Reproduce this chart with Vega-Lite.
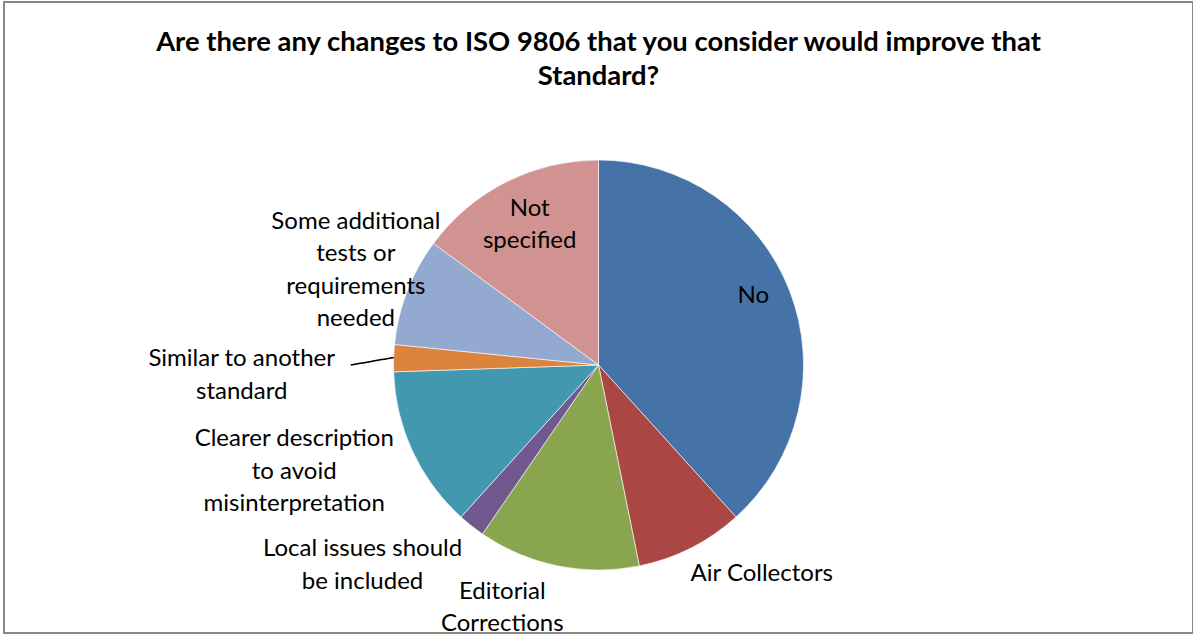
{
  "$schema": "https://vega.github.io/schema/vega-lite/v6.json",
  "width": 1189,
  "height": 631,
  "autosize": {"type": "none"},
  "padding": {"left": 4, "top": 2, "right": 0, "bottom": 2},
  "background": "white",
  "view": {"stroke": "#888888", "strokeWidth": 2, "fill": "white"},
  "title": {
    "text": ["Are there any changes to ISO 9806 that you consider would improve that", "Standard?"],
    "font": "Lato",
    "fontSize": 27.4,
    "fontWeight": "bold",
    "color": "#000000",
    "anchor": "middle",
    "frame": "group",
    "orient": "top",
    "offset": -88,
    "lineHeight": 34
  },
  "data": {
    "values": [
      {"cat": "No", "label": "No", "count": 18, "rank": 1},
      {"cat": "Air Collectors", "label": "Air Collectors", "count": 4, "rank": 2},
      {"cat": "Editorial Corrections", "label": "Editorial\nCorrections", "count": 6, "rank": 3},
      {"cat": "Local issues should be included", "label": "Local issues should\nbe included", "count": 1, "rank": 4},
      {"cat": "Clearer description to avoid misinterpretation", "label": "Clearer description\nto avoid\nmisinterpretation", "count": 6, "rank": 5},
      {"cat": "Similar to another standard", "label": "Similar to another\nstandard", "count": 1, "rank": 6},
      {"cat": "Some additional tests or requirements needed", "label": "Some additional\ntests or\nrequirements\nneeded", "count": 4, "rank": 7},
      {"cat": "Not specified", "label": "Not\nspecified", "count": 7, "rank": 8}
    ]
  },
  "layer": [
    {
      "mark": {"type": "arc", "outerRadius": 205, "yOffset": 47.5, "stroke": "#ffffff", "strokeWidth": 0.6},
      "encoding": {
        "theta": {"field": "count", "type": "quantitative", "stack": true},
        "order": {"field": "rank", "type": "quantitative"},
        "color": {
          "field": "cat",
          "type": "nominal",
          "legend": null,
          "scale": {
            "domain": ["No", "Air Collectors", "Editorial Corrections", "Local issues should be included", "Clearer description to avoid misinterpretation", "Similar to another standard", "Some additional tests or requirements needed", "Not specified"],
            "range": ["#4572A7", "#AA4643", "#89A54E", "#71588F", "#4198AF", "#DB843D", "#93A9CF", "#D19392"]
          }
        }
      }
    },
    {
      "mark": {"type": "text", "radius": 168, "yOffset": 47.5, "dx": -2, "dy": -9, "font": "Lato", "fontSize": 24, "lineBreak": "\n", "lineHeight": 32.5, "align": "center", "baseline": "middle", "color": "#000000"},
      "encoding": {
        "theta": {"field": "count", "type": "quantitative", "stack": true},
        "order": {"field": "rank", "type": "quantitative"},
        "detail": {"field": "cat", "type": "nominal"},
        "text": {"condition": {"test": "datum.cat === 'No'", "field": "label"}, "value": ""}
      }
    },
    {
      "mark": {"type": "text", "radius": 157, "yOffset": 47.5, "dx": 2, "dy": -16, "font": "Lato", "fontSize": 24, "lineBreak": "\n", "lineHeight": 32.5, "align": "center", "baseline": "middle", "color": "#000000"},
      "encoding": {
        "theta": {"field": "count", "type": "quantitative", "stack": true},
        "order": {"field": "rank", "type": "quantitative"},
        "detail": {"field": "cat", "type": "nominal"},
        "text": {"condition": {"test": "datum.cat === 'Not specified'", "field": "label"}, "value": ""}
      }
    },
    {
      "mark": {"type": "text", "radius": 260, "yOffset": 47.5, "dx": 0, "dy": -50, "font": "Lato", "fontSize": 24, "lineBreak": "\n", "lineHeight": 32.5, "align": "center", "baseline": "middle", "color": "#000000"},
      "encoding": {
        "theta": {"field": "count", "type": "quantitative", "stack": true},
        "order": {"field": "rank", "type": "quantitative"},
        "detail": {"field": "cat", "type": "nominal"},
        "text": {"condition": {"test": "datum.cat === 'Some additional tests or requirements needed'", "field": "label"}, "value": ""}
      }
    },
    {
      "mark": {"type": "text", "radius": 356, "yOffset": 47.5, "dx": -1, "dy": 6, "font": "Lato", "fontSize": 24, "lineBreak": "\n", "lineHeight": 32.5, "align": "center", "baseline": "middle", "color": "#000000"},
      "encoding": {
        "theta": {"field": "count", "type": "quantitative", "stack": true},
        "order": {"field": "rank", "type": "quantitative"},
        "detail": {"field": "cat", "type": "nominal"},
        "text": {"condition": {"test": "datum.cat === 'Similar to another standard'", "field": "label"}, "value": ""}
      }
    },
    {
      "mark": {"type": "text", "radius": 227, "yOffset": 47.5, "dx": 0, "dy": 5, "angle": 350, "font": "DejaVu Sans", "fontSize": 18, "align": "center", "baseline": "middle", "color": "#000000"},
      "encoding": {
        "theta": {"field": "count", "type": "quantitative", "stack": true},
        "order": {"field": "rank", "type": "quantitative"},
        "detail": {"field": "cat", "type": "nominal"},
        "text": {"condition": {"test": "datum.cat === 'Similar to another standard'", "value": "────"}, "value": ""}
      }
    },
    {
      "mark": {"type": "text", "radius": 320, "yOffset": 47.5, "dx": -14, "dy": -60.5, "font": "Lato", "fontSize": 24, "lineBreak": "\n", "lineHeight": 32.5, "align": "center", "baseline": "middle", "color": "#000000"},
      "encoding": {
        "theta": {"field": "count", "type": "quantitative", "stack": true},
        "order": {"field": "rank", "type": "quantitative"},
        "detail": {"field": "cat", "type": "nominal"},
        "text": {"condition": {"test": "datum.cat === 'Clearer description to avoid misinterpretation'", "field": "label"}, "value": ""}
      }
    },
    {
      "mark": {"type": "text", "radius": 300, "yOffset": 47.5, "dx": -50, "dy": -51, "font": "Lato", "fontSize": 24, "lineBreak": "\n", "lineHeight": 32.5, "align": "center", "baseline": "middle", "color": "#000000"},
      "encoding": {
        "theta": {"field": "count", "type": "quantitative", "stack": true},
        "order": {"field": "rank", "type": "quantitative"},
        "detail": {"field": "cat", "type": "nominal"},
        "text": {"condition": {"test": "datum.cat === 'Local issues should be included'", "field": "label"}, "value": ""}
      }
    },
    {
      "mark": {"type": "text", "radius": 257, "yOffset": 47.5, "dx": -45, "dy": -25, "font": "Lato", "fontSize": 24, "lineBreak": "\n", "lineHeight": 32.5, "align": "center", "baseline": "middle", "color": "#000000"},
      "encoding": {
        "theta": {"field": "count", "type": "quantitative", "stack": true},
        "order": {"field": "rank", "type": "quantitative"},
        "detail": {"field": "cat", "type": "nominal"},
        "text": {"condition": {"test": "datum.cat === 'Editorial Corrections'", "field": "label"}, "value": ""}
      }
    },
    {
      "mark": {"type": "text", "radius": 260, "yOffset": 47.5, "dx": 46, "dy": -23, "font": "Lato", "fontSize": 24, "lineBreak": "\n", "lineHeight": 32.5, "align": "center", "baseline": "middle", "color": "#000000"},
      "encoding": {
        "theta": {"field": "count", "type": "quantitative", "stack": true},
        "order": {"field": "rank", "type": "quantitative"},
        "detail": {"field": "cat", "type": "nominal"},
        "text": {"condition": {"test": "datum.cat === 'Air Collectors'", "field": "label"}, "value": ""}
      }
    }
  ]
}
